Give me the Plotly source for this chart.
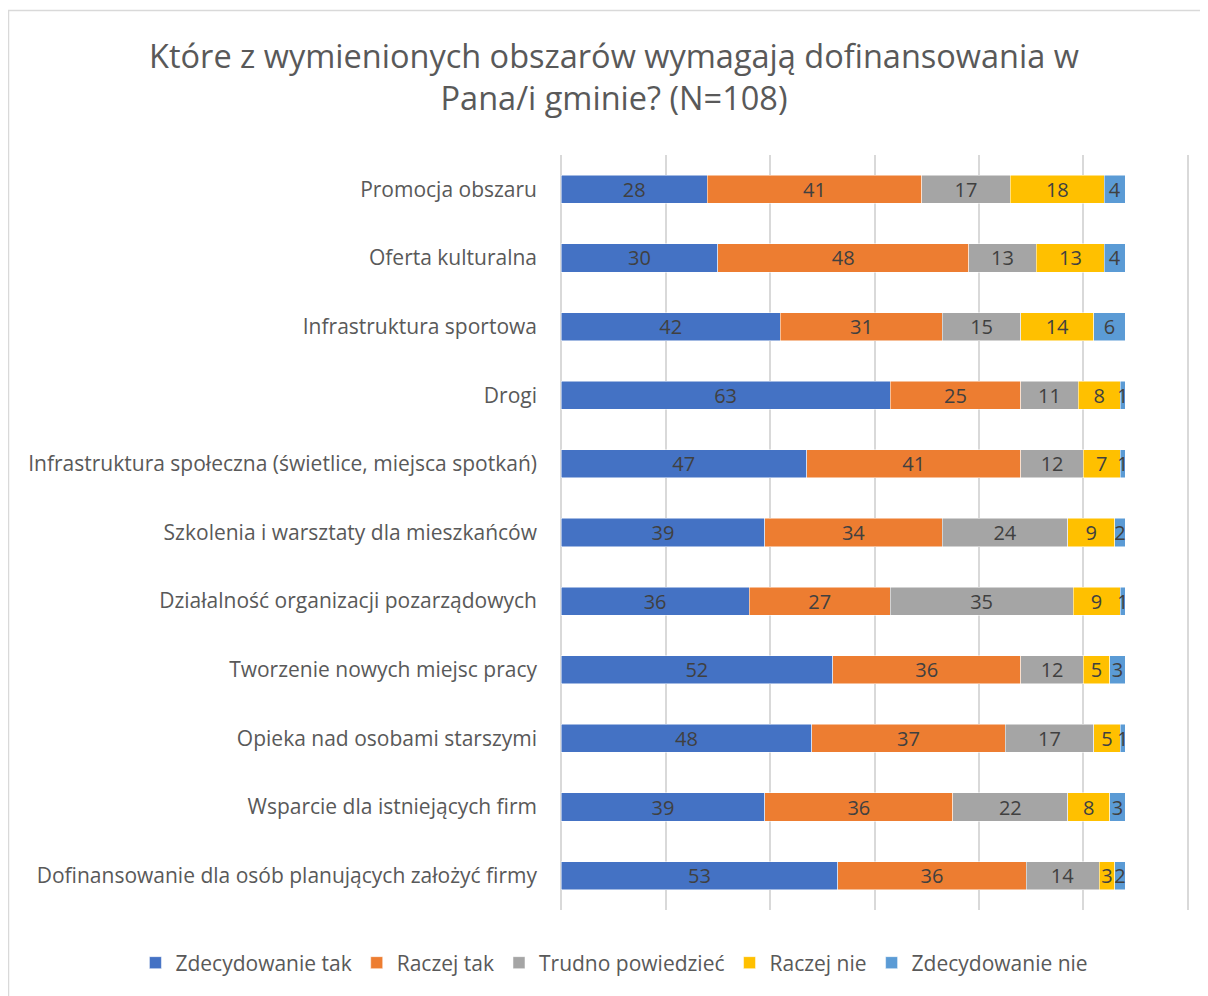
import plotly.graph_objects as go

kategorie = [
    "Promocja obszaru",
    "Oferta kulturalna",
    "Infrastruktura sportowa",
    "Drogi",
    "Infrastruktura społeczna (świetlice, miejsca spotkań)",
    "Szkolenia i warsztaty dla mieszkańców",
    "Działalność organizacji pozarządowych",
    "Tworzenie nowych miejsc pracy",
    "Opieka nad osobami starszymi",
    "Wsparcie dla istniejących firm",
    "Dofinansowanie dla osób planujących założyć firmy",
]

zdecydowanie_tak = [28, 30, 42, 63, 47, 39, 36, 52, 48, 39, 53]
raczej_tak = [41, 48, 31, 25, 41, 34, 27, 36, 37, 36, 36]
trudno_powiedziec = [17, 13, 15, 11, 12, 24, 35, 12, 17, 22, 14]
raczej_nie = [18, 13, 14, 8, 7, 9, 9, 5, 5, 8, 3]
zdecydowanie_nie = [4, 4, 6, 1, 1, 2, 1, 3, 1, 3, 2]

serie = [
    ("Zdecydowanie tak", zdecydowanie_tak, "#4472C4"),
    ("Raczej tak", raczej_tak, "#ED7D31"),
    ("Trudno powiedzieć", trudno_powiedziec, "#A5A5A5"),
    ("Raczej nie", raczej_nie, "#FFC000"),
    ("Zdecydowanie nie", zdecydowanie_nie, "#5B9BD5"),
]

fnt = "Open Sans, Noto Sans, sans-serif"

fig = go.Figure()
for nazwa, wartosci, kolor in serie:
    fig.add_trace(go.Bar(
        y=kategorie,
        x=wartosci,
        name=nazwa,
        orientation="h",
        marker=dict(color=kolor, line=dict(color="white", width=0.5)),
        text=[str(v) for v in wartosci],
        textposition="inside",
        insidetextanchor="middle",
        textangle=0,
        constraintext="none",
        cliponaxis=False,
        textfont=dict(family=fnt, size=20, color="#404040"),
    ))

# strona ma 8 px marginesu body, więc figura jest o 8 px mniejsza
fig.update_layout(
    barmode="stack",
    bargap=0.59,
    width=1200,
    height=988,
    margin=dict(l=552, r=19, t=147, b=86, autoexpand=False),
    paper_bgcolor="white",
    plot_bgcolor="white",
    uniformtext=dict(minsize=20, mode="show"),
    title=dict(
        text="Które z wymienionych obszarów wymagają dofinansowania w<br>Pana/i gminie? (N=108)",
        x=0.505, xanchor="center",
        y=0.9395, yanchor="top",
        font=dict(family=fnt, size=32.5, color="#595959"),
    ),
    xaxis=dict(
        range=[-0.2, 120.2],  # lekko szerzej, żeby linie siatki na brzegach były widoczne
        dtick=20,
        showticklabels=False,
        showgrid=True,
        gridcolor="#D9D9D9",
        gridwidth=1.5,
        zeroline=True,
        zerolinecolor="#D9D9D9",
        zerolinewidth=1.5,
        showline=False,
    ),
    yaxis=dict(
        autorange="reversed",
        showgrid=False,
        zeroline=False,
        ticks="",
        ticklabelstandoff=22,
        tickfont=dict(family=fnt, size=21, color="#595959"),
    ),
    legend=dict(
        orientation="h",
        x=-0.675, xanchor="left",
        y=-0.0702, yanchor="middle",
        font=dict(family=fnt, size=21, color="#595959"),
        traceorder="normal",
        itemwidth=30,
    ),
    shapes=[dict(
        type="rect", xref="paper", yref="paper",
        x0=-0.8768, x1=1.05, y0=-0.13, y1=1.1914,
        line=dict(color="#D9D9D9", width=1.5),
        fillcolor="rgba(0,0,0,0)",
        layer="below",
    )],
)

fig.write_html("out.html")
